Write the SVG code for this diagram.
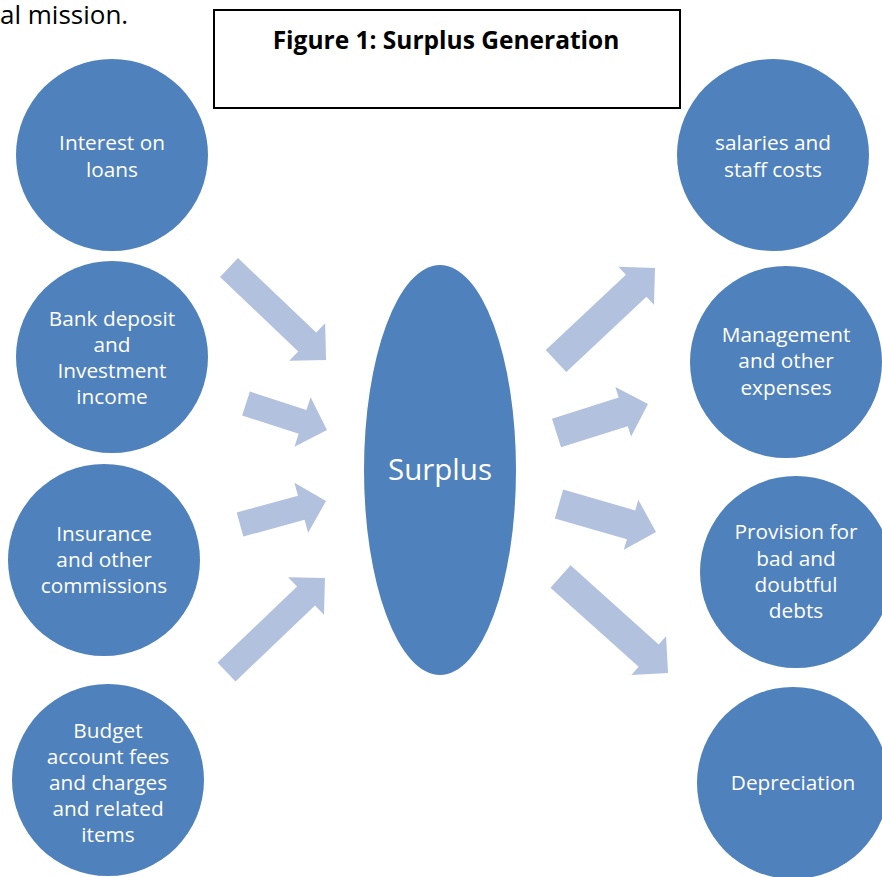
<svg xmlns="http://www.w3.org/2000/svg" width="882" height="877" viewBox="0 0 882 877">
<style>
.node{fill:#4F81BD}
.lbl{font-family:"Open Sans","Liberation Sans",sans-serif;font-size:20.8px;fill:#ffffff;text-anchor:middle}
.big{font-size:29.5px}
.arr{fill:#B2C1DE}
.title{font-family:"Open Sans","Liberation Sans",sans-serif;font-size:24.5px;font-weight:bold;fill:#000;text-anchor:middle}
.body{font-family:"Open Sans","Liberation Sans",sans-serif;font-size:26px;fill:#000}
</style>
<rect width="882" height="877" fill="#ffffff"/>
<text class="body" x="0" y="24">al mission.</text>
<g id="title">
<rect x="214" y="10" width="466" height="98" fill="#ffffff" stroke="#000" stroke-width="2"/>
<text class="title" x="446" y="49">Figure 1: Surplus Generation</text>
</g>
<g id="connectors">
<polygon class="arr" transform="translate(229,267.5) rotate(43.6)" points="0,-13 108,-13 108,-26 134,0 108,26 108,13 0,13"/>
<polygon class="arr" transform="translate(246,403.5) rotate(18.1)" points="0,-12.5 59.5,-12.5 59.5,-26 85.2,0 59.5,26 59.5,12.5 0,12.5"/>
<polygon class="arr" transform="translate(240,524.5) rotate(-15.3)" points="0,-12.5 63.5,-12.5 63.5,-26 89.2,0 63.5,26 63.5,12.5 0,12.5"/>
<polygon class="arr" transform="translate(226.5,672) rotate(-43.7)" points="0,-13 110,-13 110,-26 136.2,0 110,26 110,13 0,13"/>
<polygon class="arr" transform="translate(556,361) rotate(-43.2)" points="0,-15 110,-15 110,-26 135.8,0 110,26 110,15 0,15"/>
<polygon class="arr" transform="translate(556.5,433) rotate(-17.6)" points="0,-15 70,-15 70,-26 96,0 70,26 70,15 0,15"/>
<polygon class="arr" transform="translate(559,504) rotate(16.1)" points="0,-15 75,-15 75,-26 101,0 75,26 75,15 0,15"/>
<polygon class="arr" transform="translate(560.5,576.5) rotate(41.9)" points="0,-15 118.5,-15 118.5,-26 144.5,0 118.5,26 118.5,15 0,15"/>
</g>
<g id="surplus">
<ellipse class="node" cx="440" cy="470" rx="76" ry="205"/>
<text class="lbl big" x="440" y="480">Surplus</text>
</g>
<g id="interest">
<circle class="node" cx="112" cy="155" r="96"/>
<text class="lbl" x="112" y="150">Interest on</text>
<text class="lbl" x="112" y="177">loans</text>
</g>
<g id="bank">
<circle class="node" cx="112" cy="357" r="96"/>
<text class="lbl" x="112" y="326">Bank deposit</text>
<text class="lbl" x="112" y="352">and</text>
<text class="lbl" x="112" y="378">Investment</text>
<text class="lbl" x="112" y="404">income</text>
</g>
<g id="insurance">
<circle class="node" cx="104" cy="560" r="96"/>
<text class="lbl" x="104" y="541">Insurance</text>
<text class="lbl" x="104" y="567">and other</text>
<text class="lbl" x="104" y="593">commissions</text>
</g>
<g id="budget">
<circle class="node" cx="108" cy="780" r="96"/>
<text class="lbl" x="108" y="738">Budget</text>
<text class="lbl" x="108" y="764">account fees</text>
<text class="lbl" x="108" y="790">and charges</text>
<text class="lbl" x="108" y="816">and related</text>
<text class="lbl" x="108" y="842">items</text>
</g>
<g id="salaries">
<circle class="node" cx="773" cy="155" r="96"/>
<text class="lbl" x="773" y="150">salaries and</text>
<text class="lbl" x="773" y="177">staff costs</text>
</g>
<g id="management">
<circle class="node" cx="786" cy="362" r="96"/>
<text class="lbl" x="786" y="342">Management</text>
<text class="lbl" x="786" y="368">and other</text>
<text class="lbl" x="786" y="395">expenses</text>
</g>
<g id="provision">
<circle class="node" cx="796" cy="572" r="96"/>
<text class="lbl" x="796" y="539">Provision for</text>
<text class="lbl" x="796" y="566">bad and</text>
<text class="lbl" x="796" y="592">doubtful</text>
<text class="lbl" x="796" y="618">debts</text>
</g>
<g id="depreciation">
<circle class="node" cx="793" cy="783" r="96"/>
<text class="lbl" x="793" y="790">Depreciation</text>
</g>
</svg>
